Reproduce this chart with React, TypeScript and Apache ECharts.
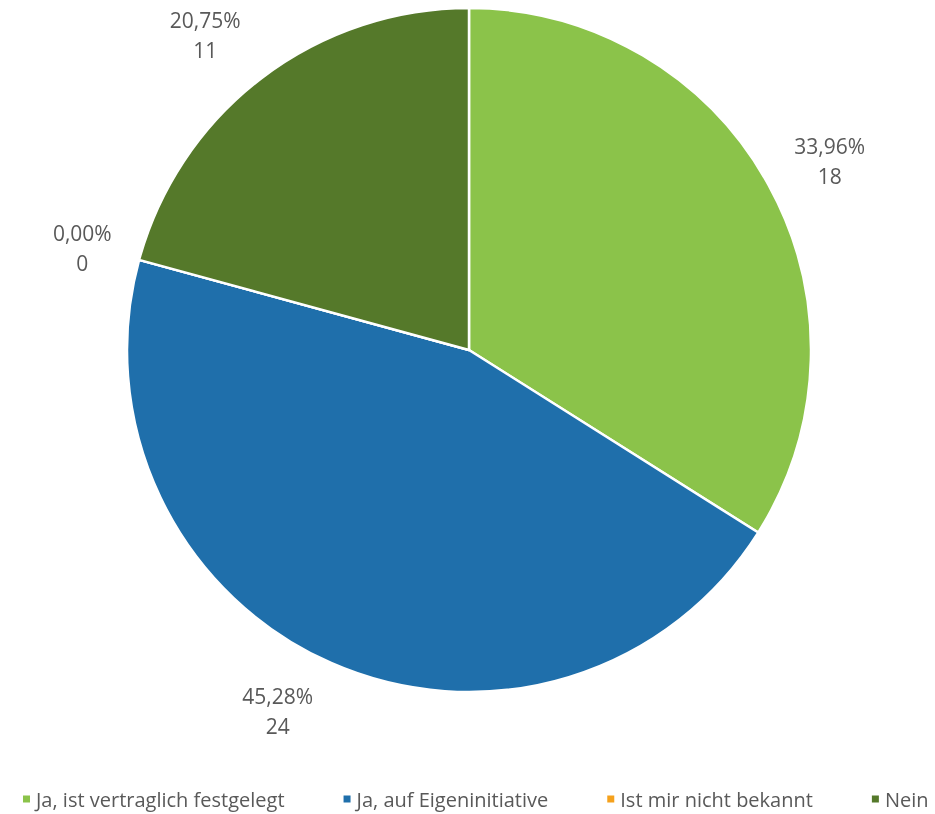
import React, { useEffect, useRef } from "react";
import * as echarts from "echarts";

const categories = [
  "Ja, ist vertraglich festgelegt",
  "Ja, auf Eigeninitiative",
  "Ist mir nicht bekannt",
  "Nein",
];
const counts = [18, 24, 0, 11];
const percentLabels = ["33,96%", "45,28%", "0,00%", "20,75%"];
const colors = ["#8BC34A", "#1F6FAB", "#F5A11C", "#55792A"];

// layout (page pixel coordinates; the chart div is fixed at the page origin)
const CX = 469;
const CY = 350;
const R = 342;
const LABEL_R = 405;
const labelNudge: [number, number][] = [
  [6, 7],
  [-28, -10],
  [4, 5],
  [-18, 7],
];

export default function App() {
  const ref = useRef<HTMLDivElement>(null);
  useEffect(() => {
    if (!ref.current) return;
    const chart = echarts.init(ref.current, undefined, { renderer: "svg" });
    const total = counts.reduce((a, b) => a + b, 0);
    const mid: number[] = [];
    let acc = 0;
    counts.forEach((v) => {
      mid.push(acc + v / 2);
      acc += v;
    });
    chart.setOption({
      animation: false,
      legend: {
        top: 789,
        left: 21,
        right: 0,
        padding: 0,
        icon: "rect",
        itemWidth: 9,
        itemHeight: 9,
        itemGap: 57,
        textStyle: { fontFamily: "Open Sans", fontSize: 20, color: "#595959" },
        data: categories,
      },
      series: [
        {
          type: "pie",
          center: [CX, CY],
          radius: R,
          startAngle: 90,
          clockwise: true,
          avoidLabelOverlap: false,
          stillShowZeroSum: true,
          itemStyle: { borderColor: "#ffffff", borderWidth: 2.5 },
          label: {
            show: true,
            position: "outside",
            formatter: (p: any) => `${percentLabels[p.dataIndex]}\n${counts[p.dataIndex]}`,
            fontFamily: "Open Sans",
            fontSize: 21,
            lineHeight: 30,
            color: "#595959",
            align: "center",
          },
          labelLine: { show: false },
          labelLayout: (p: any) => {
            const i = p.dataIndex;
            const a = (mid[i] / total) * Math.PI * 2;
            return {
              x: CX + LABEL_R * Math.sin(a) + labelNudge[i][0],
              y: CY - LABEL_R * Math.cos(a) + labelNudge[i][1],
              align: "center",
              verticalAlign: "middle",
            };
          },
          data: categories.map((c, i) => ({
            name: c,
            value: counts[i],
            itemStyle: { color: colors[i] },
          })),
        },
      ],
    });
    return () => chart.dispose();
  }, []);
  return (
    <div
      ref={ref}
      style={{ position: "fixed", left: 0, top: 0, width: 935, height: 814 }}
    />
  );
}
